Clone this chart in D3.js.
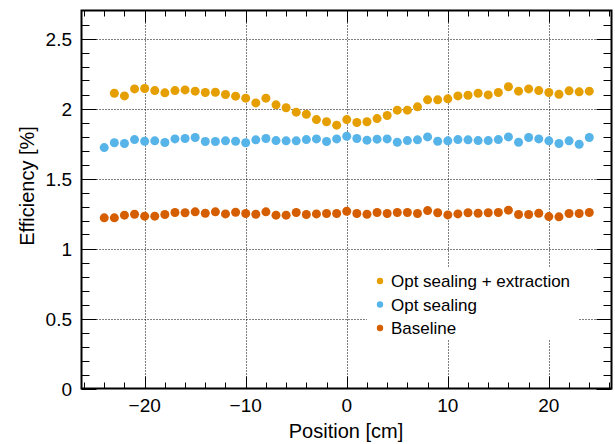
<!DOCTYPE html>
<html>
<head>
<meta charset="utf-8">
<script src="https://cdn.jsdelivr.net/npm/d3@7"></script>
<style>
  body { margin: 0; background: #fff; }
  svg { display: block; font-family: "Liberation Sans", Arial, sans-serif; }
</style>
</head>
<body>
<div class="Canvas"></div>
<script>
const positions = d3.range(-24, 25);

const extractionPos = d3.range(-23, 25);
const extraction = [
  2.109, 2.090, 2.140, 2.143, 2.128, 2.112, 2.128, 2.133, 2.124, 2.114, 2.116, 2.100, 2.088, 2.074,
  2.040, 2.074, 2.026, 2.005, 1.974, 1.959, 1.921, 1.905, 1.881, 1.921, 1.900, 1.905, 1.928, 1.950,
  1.988, 1.988, 2.012, 2.062, 2.062, 2.069, 2.090, 2.095, 2.109, 2.097, 2.114, 2.155, 2.124, 2.140,
  2.128, 2.114, 2.102, 2.126, 2.119, 2.124
];
const sealing = [
  1.721, 1.755, 1.750, 1.778, 1.766, 1.769, 1.757, 1.783, 1.786, 1.793, 1.764, 1.764, 1.769, 1.766,
  1.755, 1.776, 1.786, 1.771, 1.769, 1.769, 1.778, 1.783, 1.764, 1.783, 1.802, 1.786, 1.774, 1.781,
  1.783, 1.759, 1.771, 1.776, 1.797, 1.766, 1.769, 1.778, 1.776, 1.771, 1.771, 1.778, 1.797, 1.759,
  1.793, 1.783, 1.769, 1.750, 1.769, 1.745, 1.793
];
const baseline = [
  1.219, 1.219, 1.238, 1.245, 1.231, 1.231, 1.243, 1.257, 1.255, 1.262, 1.252, 1.262, 1.247, 1.259,
  1.250, 1.245, 1.262, 1.238, 1.238, 1.257, 1.243, 1.247, 1.250, 1.250, 1.266, 1.250, 1.245, 1.257,
  1.250, 1.257, 1.257, 1.250, 1.271, 1.255, 1.240, 1.247, 1.255, 1.252, 1.255, 1.257, 1.274, 1.243,
  1.243, 1.252, 1.228, 1.226, 1.250, 1.250, 1.257
];

const seriesNames = ['Opt sealing + extraction', 'Opt sealing', 'Baseline'];
const seriesColors = ['#E69F00', '#56B4E9', '#D55E00'];
const xTicks = [-20, -10, 0, 10, 20];
const yTicks = [0, 0.5, 1, 1.5, 2, 2.5];

const width = 615;
const height = 444;
const frame = { left: 81.5, right: 611.5, top: 10.5, bottom: 388.5 };
const dotRadius = 4.5;
const labelSize = '19px';

const svg = d3.select('.Canvas').append('svg').attr('width', width).attr('height', height);

const x = d3.scaleLinear().domain([-26.25, 26.2]).range([frame.left, frame.right]);
const y = d3.scaleLinear().domain([0, 2.7]).range([frame.bottom, frame.top]);

// grid
const grid = svg.append('g').attr('stroke', '#000').attr('stroke-width', 1).attr('stroke-dasharray', '1,2');
grid.selectAll('line.gx').data(xTicks).enter().append('line')
  .attr('x1', (d) => Math.round(x(d)) + 0.5).attr('x2', (d) => Math.round(x(d)) + 0.5)
  .attr('y1', frame.top).attr('y2', frame.bottom);
grid.selectAll('line.gy').data(yTicks.filter((d) => d > 0)).enter().append('line')
  .attr('y1', (d) => Math.round(y(d)) + 0.5).attr('y2', (d) => Math.round(y(d)) + 0.5)
  .attr('x1', frame.left).attr('x2', frame.right);

// ticks (inside the frame, all four sides)
const ticks = svg.append('g').attr('stroke', '#000').attr('stroke-width', 1);
const xMinor = d3.range(-26, 27, 2);
const yMinor = d3.range(0, 27).map((d) => d / 10);
const xLen = (d) => (d % 10 === 0 ? 12 : 6);
const yLen = (d) => (Math.abs(d * 2 - Math.round(d * 2)) < 1e-6 ? 15 : 8);

ticks.selectAll('line.xb').data(xMinor).enter().append('line')
  .attr('x1', (d) => Math.round(x(d)) + 0.5).attr('x2', (d) => Math.round(x(d)) + 0.5)
  .attr('y1', frame.bottom).attr('y2', (d) => frame.bottom - xLen(d));
ticks.selectAll('line.xt').data(xMinor).enter().append('line')
  .attr('x1', (d) => Math.round(x(d)) + 0.5).attr('x2', (d) => Math.round(x(d)) + 0.5)
  .attr('y1', frame.top).attr('y2', (d) => frame.top + xLen(d));
ticks.selectAll('line.yl').data(yMinor).enter().append('line')
  .attr('y1', (d) => Math.round(y(d)) + 0.5).attr('y2', (d) => Math.round(y(d)) + 0.5)
  .attr('x1', frame.left).attr('x2', (d) => frame.left + yLen(d));
ticks.selectAll('line.yr').data(yMinor).enter().append('line')
  .attr('y1', (d) => Math.round(y(d)) + 0.5).attr('y2', (d) => Math.round(y(d)) + 0.5)
  .attr('x1', frame.right).attr('x2', (d) => frame.right - yLen(d));

// frame
svg.append('rect')
  .attr('x', frame.left).attr('y', frame.top)
  .attr('width', frame.right - frame.left).attr('height', frame.bottom - frame.top)
  .attr('fill', 'none').attr('stroke', '#000').attr('stroke-width', 2);

// tick labels
svg.append('g').selectAll('text').data(xTicks).enter().append('text')
  .attr('x', (d) => x(d)).attr('y', 412)
  .attr('text-anchor', 'middle').attr('font-size', labelSize)
  .text((d) => (d < 0 ? '\u2212' + Math.abs(d) : d));
svg.append('g').selectAll('text').data(yTicks).enter().append('text')
  .attr('x', 72).attr('y', (d) => y(d) + 7)
  .attr('text-anchor', 'end').attr('font-size', labelSize)
  .text((d) => d);

// axis titles
svg.append('text').attr('x', 346).attr('y', 438)
  .attr('text-anchor', 'middle').attr('font-size', '20px').text('Position [cm]');
svg.append('text').attr('transform', 'translate(34,186) rotate(-90)')
  .attr('text-anchor', 'middle').attr('font-size', '20px').text('Efficiency [%]');

// points
const series = [
  { xs: extractionPos, ys: extraction },
  { xs: positions, ys: sealing },
  { xs: positions, ys: baseline },
];
series.forEach((s, i) => {
  svg.append('g').selectAll('circle').data(s.ys).enter().append('circle')
    .attr('cx', (d, j) => x(s.xs[j]))
    .attr('cy', (d) => y(d))
    .attr('r', dotRadius)
    .attr('fill', seriesColors[i]);
});

// legend
const legend = svg.append('g');
legend.append('rect').attr('x', 367).attr('y', 267).attr('width', 211).attr('height', 73).attr('fill', '#fff');
seriesNames.forEach((name, i) => {
  const ly = 281 + i * 23.5;
  legend.append('circle').attr('cx', 380).attr('cy', ly).attr('r', 3.2).attr('fill', seriesColors[i]);
  legend.append('text').attr('x', 391).attr('y', ly + 6).attr('font-size', '17px').text(name);
});
</script>
</body>
</html>
